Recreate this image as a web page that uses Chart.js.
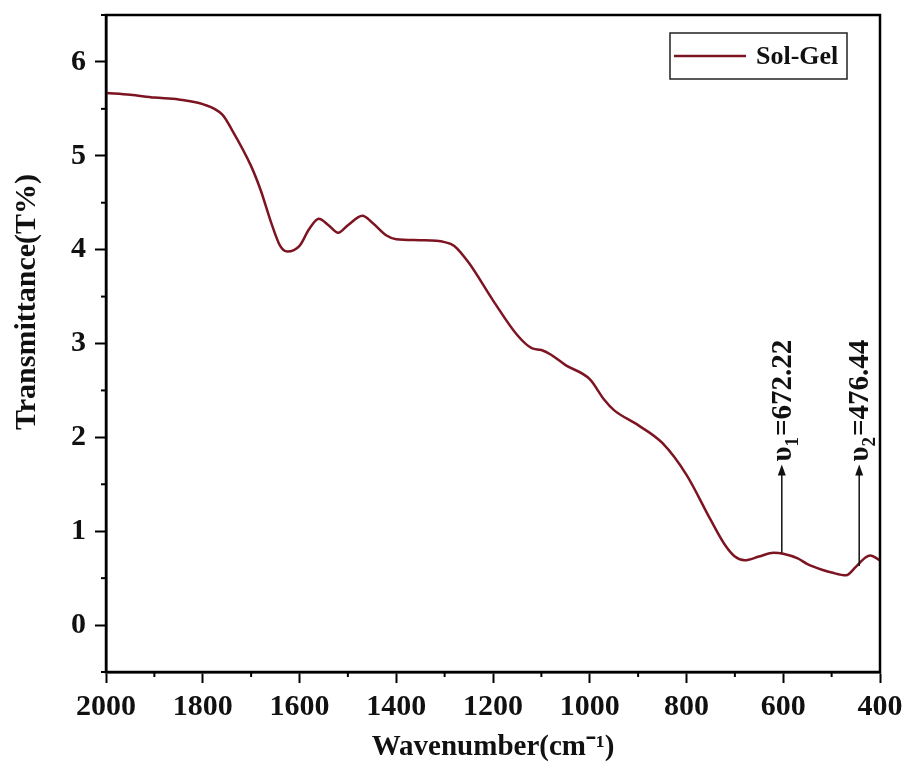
<!DOCTYPE html>
<html lang="en">
<head>
  <meta charset="UTF-8">
  <title>FTIR Sol-Gel</title>
  <script src="https://cdn.jsdelivr.net/npm/chart.js"></script>
  <style>
    html, body { margin: 0; padding: 0; background: #fff; }
    #wrap { width: 904px; height: 769px; }
  </style>
</head>
<body>
  <div id="wrap"><canvas id="chart" width="904" height="769"></canvas></div>

  <script>
    // wavenumber (cm-1) and transmittance
    const wavenumbers = [2000, 1950, 1900, 1850, 1800, 1760, 1740, 1700, 1680, 1660, 1640, 1625, 1600, 1580, 1560, 1540, 1520, 1500, 1470, 1450, 1420, 1400, 1350, 1300, 1280, 1250, 1200, 1150, 1120, 1100, 1080, 1050, 1000, 970, 950, 900, 850, 800, 750, 720, 700, 680, 650, 620, 600, 570, 550, 520, 500, 470, 450, 430, 420, 400];
    const transmittance = [5.67, 5.65, 5.62, 5.60, 5.55, 5.44, 5.28, 4.89, 4.63, 4.31, 4.04, 3.98, 4.04, 4.22, 4.33, 4.26, 4.18, 4.26, 4.36, 4.29, 4.15, 4.11, 4.10, 4.08, 4.04, 3.86, 3.46, 3.09, 2.95, 2.93, 2.88, 2.77, 2.62, 2.40, 2.29, 2.13, 1.94, 1.60, 1.12, 0.85, 0.73, 0.69, 0.73, 0.77, 0.76, 0.71, 0.65, 0.59, 0.56, 0.53, 0.62, 0.72, 0.74, 0.69];

    const yTicks = [0, 1, 2, 3, 4, 5, 6];
    const xTicks = [2000, 1800, 1600, 1400, 1200, 1000, 800, 600, 400];

    // peak markers: arrow position, arrow start/end heights, label parts
    const peakX = [603, 443];
    const peakFrom = [0.77, 0.63];
    const peakTo = [1.71, 1.71];
    const peakSub = ['1', '2'];
    const peakText = ['=672.22', '=476.44'];

    const lineColor = '#7d1421';
    const serif = '"Liberation Serif", "Times New Roman", serif';

    const points = wavenumbers.map((w, i) => ({ x: w, y: transmittance[i] }));

    // frame, minor ticks, legend, y title and arrows
    const extras = {
      id: 'extras',
      afterDraw(chart) {
        const ctx = chart.ctx;
        const a = chart.chartArea;
        const xs = chart.scales.x;
        const ys = chart.scales.y;
        ctx.save();
        ctx.strokeStyle = '#000';
        ctx.lineWidth = 2.5;
        ctx.strokeRect(a.left, a.top, a.right - a.left, a.bottom - a.top);

        // minor ticks
        ctx.lineWidth = 2;
        for (let v = -0.5; v <= 6.5; v += 1) {
          const y = ys.getPixelForValue(v);
          ctx.beginPath(); ctx.moveTo(a.left - 5, y); ctx.lineTo(a.left, y); ctx.stroke();
        }
        for (let w = 500; w < 2000; w += 200) {
          const x = xs.getPixelForValue(w);
          ctx.beginPath(); ctx.moveTo(x, a.bottom); ctx.lineTo(x, a.bottom + 5); ctx.stroke();
        }

        // y axis title
        ctx.save();
        ctx.translate(27, 302);
        ctx.rotate(-Math.PI / 2);
        ctx.fillStyle = '#111';
        ctx.font = 'bold 30px ' + serif;
        ctx.textAlign = 'center';
        ctx.textBaseline = 'middle';
        ctx.fillText('Transmittance(T%)', 0, 0);
        ctx.restore();

        // legend
        const lx = 670, ly = 33, lw = 177, lh = 46;
        ctx.lineWidth = 1.5;
        ctx.strokeStyle = '#222';
        ctx.strokeRect(lx, ly, lw, lh);
        ctx.strokeStyle = lineColor;
        ctx.lineWidth = 2.5;
        ctx.beginPath(); ctx.moveTo(lx + 4, ly + 23); ctx.lineTo(lx + 76, ly + 23); ctx.stroke();
        ctx.fillStyle = '#111';
        ctx.font = 'bold 26px ' + serif;
        ctx.textBaseline = 'middle';
        ctx.fillText('Sol-Gel', lx + 86, ly + 24);

        // arrows with labels
        ctx.strokeStyle = '#111';
        ctx.fillStyle = '#111';
        ctx.lineWidth = 1.5;
        peakX.forEach((w, i) => {
          const x = xs.getPixelForValue(w);
          const y0 = ys.getPixelForValue(peakFrom[i]);
          const y1 = ys.getPixelForValue(peakTo[i]);
          ctx.beginPath(); ctx.moveTo(x, y0); ctx.lineTo(x, y1 + 8); ctx.stroke();
          ctx.beginPath();
          ctx.moveTo(x, y1); ctx.lineTo(x - 4, y1 + 11); ctx.lineTo(x + 4, y1 + 11); ctx.closePath();
          ctx.fill();

          ctx.save();
          ctx.translate(x + 9, y1 - 3);
          ctx.rotate(-Math.PI / 2);
          ctx.textBaseline = 'alphabetic';
          ctx.textAlign = 'left';
          ctx.font = 'bold 29px ' + serif;
          let cx = 0;
          ctx.fillText('υ', cx, 0);
          cx += ctx.measureText('υ').width;
          ctx.font = 'bold 19px ' + serif;
          ctx.fillText(peakSub[i], cx, 7);
          cx += ctx.measureText(peakSub[i]).width + 1;
          ctx.font = 'bold 29px ' + serif;
          ctx.fillText(peakText[i], cx, 0);
          ctx.restore();
        });
        ctx.restore();
      }
    };

    new Chart(document.getElementById('chart'), {
      type: 'line',
      data: {
        datasets: [{
          label: 'Sol-Gel',
          data: points,
          borderColor: lineColor,
          borderWidth: 2.5,
          pointRadius: 0,
          cubicInterpolationMode: 'monotone',
          fill: false
        }]
      },
      options: {
        responsive: false,
        animation: false,
        layout: { padding: { top: 15, right: 24, left: 0, bottom: 0 } },
        plugins: { legend: { display: false }, tooltip: { enabled: false } },
        scales: {
          x: {
            type: 'linear',
            reverse: true,
            min: 400,
            max: 2000,
            afterBuildTicks(s) { s.ticks = xTicks.map(v => ({ value: v })); },
            ticks: {
              color: '#111',
              font: { family: serif, size: 30, weight: 'bold' },
              padding: 6,
              maxRotation: 0,
              autoSkip: false,
              callback: v => String(v)
            },
            grid: { drawOnChartArea: false, drawTicks: true, tickLength: 11, color: '#000', tickWidth: 2 },
            border: { display: true, color: '#000', width: 2.5 },
            title: {
              display: true,
              text: 'Wavenumber(cm⁻¹)',
              color: '#111',
              font: { family: serif, size: 29, weight: 'bold' },
              padding: { top: 8 }
            },
            afterFit(s) { s.height = 97; s.paddingLeft = 0; s.paddingRight = 0; }
          },
          y: {
            min: -0.5,
            max: 6.5,
            afterBuildTicks(s) { s.ticks = yTicks.map(v => ({ value: v })); },
            ticks: {
              color: '#111',
              font: { family: serif, size: 30, weight: 'bold' },
              padding: 9,
              callback: v => String(v)
            },
            grid: { drawOnChartArea: false, drawTicks: true, tickLength: 11, color: '#000', tickWidth: 2 },
            border: { display: true, color: '#000', width: 2.5 },
            afterFit(s) { s.width = 106; s.paddingTop = 0; s.paddingBottom = 0; }
          }
        }
      },
      plugins: [extras]
    });
  </script>
</body>
</html>
